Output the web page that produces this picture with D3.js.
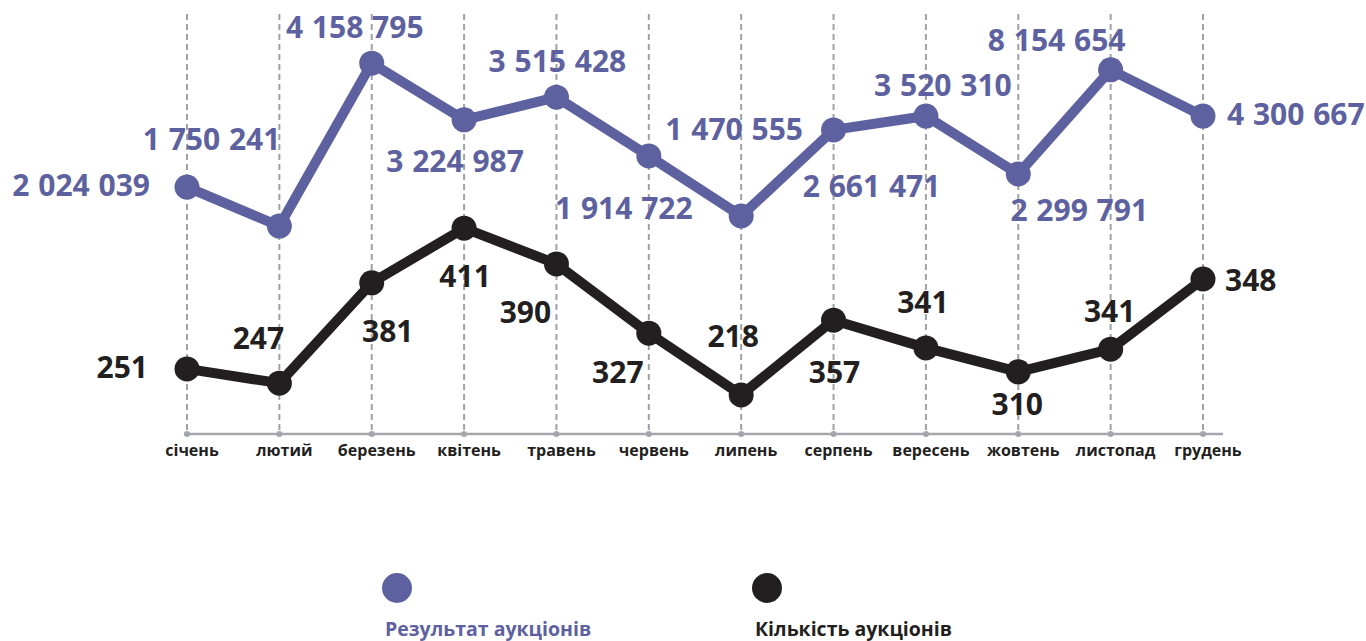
<!DOCTYPE html>
<html>
<head>
<meta charset="utf-8">
<script src="https://cdnjs.cloudflare.com/ajax/libs/d3/7.8.5/d3.min.js"></script>
<style>
    body { margin: 0; background: #fff; }
    svg { display: block; font-family: "Open Sans", sans-serif; font-weight: 700; }
    .grid { stroke: #9ea2a6; stroke-width: 2; stroke-dasharray: 6 4; }
    .axis-line { stroke: #a3a7ab; stroke-width: 2.5; }
    .month { font-size: 16px; fill: #231f20; }
    .value { font-size: 30px; word-spacing: 1px; }
    .legend-text { font-size: 19.5px; }
</style>
</head>
<body>
<div id="chart"></div>
<script>
// months
var months = ['січень', 'лютий', 'березень', 'квітень', 'травень', 'червень',
    'липень', 'серпень', 'вересень', 'жовтень', 'листопад', 'грудень'];

// auction result (UAH) - values printed on the chart
var resultValues = [2024039, 1750241, 4158795, 3224987, 3515428, 1914722,
    1470555, 2661471, 3520310, 2299791, 8154654, 4300667];
// the purple line is drawn at these relative levels (0-100)
var resultLevel = [58.8, 49.5, 88.3, 74.8, 80.2, 66.2, 51.9, 72.4, 75.7, 61.9, 86.7, 75.7];

// number of auctions - values printed on the chart
var countValues = [251, 247, 381, 411, 390, 327, 218, 357, 341, 310, 341, 348];
// the black line is drawn at these relative levels (0-100)
var countLevel = [15.5, 12.1, 36.0, 49.0, 40.5, 24.0, 9.3, 27.1, 20.5, 14.8, 20.2, 36.9];

var legendNames = ['Результат аукціонів', 'Кількість аукціонів'];

var width = 1366,
    height = 641,
    purple = '#5d61a0',
    dark = '#231f20';

// label placement around each point: [dx, dy, anchor]
var resultLabelPos = [[-37, 9, 'end'], [1, -76, 'end'], [-17, -25, 'middle'], [-9, 52, 'middle'],
    [1, -25, 'middle'], [-25, 63, 'middle'], [-7, -76, 'middle'], [38, 67, 'middle'],
    [17, -20, 'middle'], [61, 47, 'middle'], [-54, -19, 'middle'], [24, 9, 'start']];
var countLabelPos = [[-39, 9, 'end'], [-21, -34, 'middle'], [16, 59, 'middle'], [1, 59, 'middle'],
    [-31, 59, 'middle'], [-31, 50, 'middle'], [-8, -48, 'middle'], [1, 63, 'middle'],
    [-3, -35, 'middle'], [-1, 43, 'middle'], [-1, -27, 'middle'], [22, 12, 'start']];

var svg = d3.select('#chart').append('svg')
    .attr('width', width)
    .attr('height', height);

var xScale = d3.scalePoint()
    .domain(months)
    .range([187, 1203]);

var yScale = d3.scaleLinear()
    .domain([0, 100])
    .range([434, 14]);

var fmt = function(v) {
    return d3.format(',')(v).replace(/,/g, ' ');
};

// dashed vertical grid
svg.append('g').selectAll('line')
    .data(months)
    .enter().append('line')
    .attr('class', 'grid')
    .attr('x1', function(d) { return xScale(d); })
    .attr('x2', function(d) { return xScale(d); })
    .attr('y1', yScale(100))
    .attr('y2', yScale(0));

// baseline with small dots and month names
svg.append('line')
    .attr('class', 'axis-line')
    .attr('x1', xScale(months[0]) - 3)
    .attr('x2', xScale(months[11]) + 20)
    .attr('y1', yScale(0))
    .attr('y2', yScale(0));

svg.append('g').selectAll('circle')
    .data(months)
    .enter().append('circle')
    .attr('cx', function(d) { return xScale(d); })
    .attr('cy', yScale(0))
    .attr('r', 3)
    .attr('fill', '#a3a7ab');

svg.append('g').selectAll('text')
    .data(months)
    .enter().append('text')
    .attr('class', 'month')
    .attr('x', function(d) { return xScale(d) + 5; })
    .attr('y', yScale(0) + 22)
    .attr('text-anchor', 'middle')
    .text(function(d) { return d; });

function drawSeries(levels, values, labelPos, color) {
    var pts = months.map(function(m, i) {
        return { x: xScale(m), y: yScale(levels[i]), v: values[i], pos: labelPos[i] };
    });
    var line = d3.line()
        .x(function(d) { return d.x; })
        .y(function(d) { return d.y; });

    var g = svg.append('g');
    g.append('path')
        .datum(pts)
        .attr('d', line)
        .attr('fill', 'none')
        .attr('stroke', color)
        .attr('stroke-width', 10)
        .attr('stroke-linejoin', 'round');

    g.selectAll('circle')
        .data(pts)
        .enter().append('circle')
        .attr('cx', function(d) { return d.x; })
        .attr('cy', function(d) { return d.y; })
        .attr('r', 12.5)
        .attr('fill', color);

    g.selectAll('text')
        .data(pts)
        .enter().append('text')
        .attr('class', 'value')
        .attr('x', function(d) { return d.x + d.pos[0]; })
        .attr('y', function(d) { return d.y + d.pos[1]; })
        .attr('text-anchor', function(d) { return d.pos[2]; })
        .attr('fill', color)
        .text(function(d) { return fmt(d.v); });
}

drawSeries(resultLevel, resultValues, resultLabelPos, purple);
drawSeries(countLevel, countValues, countLabelPos, dark);

// legend
var legend = svg.append('g').selectAll('g')
    .data(legendNames)
    .enter().append('g')
    .attr('transform', function(d, i) { return 'translate(' + (385 + i * 370) + ',0)'; });

legend.append('circle')
    .attr('cx', 12)
    .attr('cy', 588)
    .attr('r', 15)
    .attr('fill', function(d, i) { return i === 0 ? purple : dark; });

legend.append('text')
    .attr('class', 'legend-text')
    .attr('x', 0)
    .attr('y', 636)
    .attr('fill', function(d, i) { return i === 0 ? purple : dark; })
    .text(function(d) { return d; });
</script>
</body>
</html>
